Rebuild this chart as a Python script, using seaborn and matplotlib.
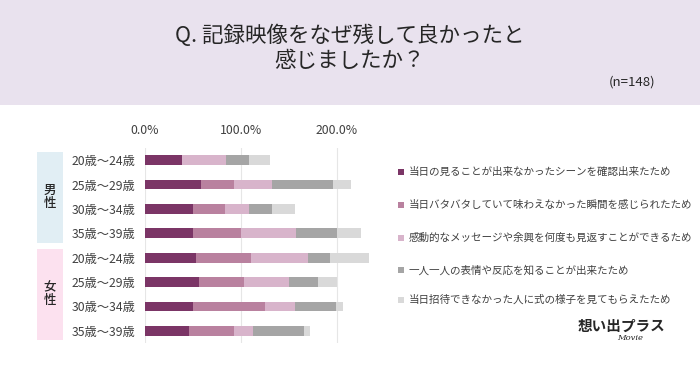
import numpy as np
import pandas as pd
import matplotlib
matplotlib.use("Agg")
import matplotlib.pyplot as plt
import seaborn as sns
from matplotlib.patches import Rectangle

# ---------------------------
# datos
# ---------------------------
ages = ["20歳～24歳", "25歳～29歳", "30歳～34歳", "35歳～39歳"]
genders = ["男性", "女性"]

reasons = [
    "当日の見ることが出来なかったシーンを確認出来たため",
    "当日バタバタしていて味わえなかった瞬間を感じられたため",
    "感動的なメッセージや余興を何度も見返すことができるため",
    "一人一人の表情や反応を知ることが出来たため",
    "当日招待できなかった人に式の様子を見てもらえたため",
]

# % por fila (男性 20-24 ... 女性 35-39)
r1 = [39, 58, 50, 50, 53, 56, 50, 46]
r2 = [0, 35, 33, 50, 58, 47, 75, 47]
r3 = [46, 39, 25, 58, 59, 47, 32, 20]
r4 = [23, 64, 25, 42, 23, 31, 42, 53]
r5 = [22, 19, 24, 25, 41, 19, 8, 6]

colors = ["#7B3566", "#B9819F", "#D8B4CB", "#A5A5A5", "#D9D9D9"]

xticks = [0, 100, 200]
xtick_labels = ["0.0%", "100.0%", "200.0%"]

# ---------------------------
# armado
# ---------------------------
row_keys = [f"{g}_{a}" for g in genders for a in ages]
series = np.array([r1, r2, r3, r4, r5], dtype=float)
cum = series.cumsum(axis=0)

plt.rcParams["font.family"] = ["Noto Sans CJK JP", "DejaVu Sans"]
text_col = "#404040"

fig = plt.figure(figsize=(7, 3.65), dpi=100)
fig.patch.set_facecolor("white")

# banner
fig.patches.append(Rectangle((0, 1 - 105 / 365), 1, 105 / 365, transform=fig.transFigure,
                             facecolor="#E9E2EE", edgecolor="none", zorder=0))
fig.text(0.5, 1 - 36 / 365, "Q. 記録映像をなぜ残して良かったと", ha="center", va="center",
         fontsize=15.5, color="#262626")
fig.text(0.5, 1 - 61 / 365, "感じましたか？", ha="center", va="center",
         fontsize=15.5, color="#262626")
fig.text(0.936, 1 - 82 / 365, "(n=148)", ha="right", va="center", fontsize=9.5, color="#262626")

# grupo
fig.patches.append(Rectangle((37 / 700, 1 - 243 / 365), 26 / 700, 91 / 365, transform=fig.transFigure,
                             facecolor="#E1EEF4", edgecolor="none", zorder=0))
fig.patches.append(Rectangle((37 / 700, 1 - 340 / 365), 26 / 700, 91 / 365, transform=fig.transFigure,
                             facecolor="#FCE1EF", edgecolor="none", zorder=0))
fig.text(50 / 700, 1 - 197 / 365, "男\n性", ha="center", va="center", fontsize=9,
         color="#262626", linespacing=1.0, fontweight="medium")
fig.text(50 / 700, 1 - 294 / 365, "女\n性", ha="center", va="center", fontsize=9,
         color="#262626", linespacing=1.0, fontweight="medium")

ax = fig.add_axes([145 / 700, 1 - 343 / 365, 230 / 700, (343 - 148) / 365])
ax.set_facecolor("none")

# barras apiladas: de la suma mayor a la menor
for i in range(len(series) - 1, -1, -1):
    df = pd.DataFrame({"row": row_keys, "val": cum[i]})
    sns.barplot(data=df, x="val", y="row", color=colors[i], orient="h",
                width=0.4, saturation=1, ax=ax, zorder=3)

ax.set_xlim(0, 240)
ax.set_ylim(7.5, -0.5)
ax.set_xticks(xticks)
ax.set_xticklabels(xtick_labels)
ax.xaxis.tick_top()
ax.set_yticks(range(len(row_keys)))
ax.set_yticklabels(ages * 2)
ax.set_xlabel("")
ax.set_ylabel("")
ax.tick_params(axis="both", length=0, colors=text_col, labelsize=8.8)
ax.tick_params(axis="x", pad=8)
ax.tick_params(axis="y", pad=7)
for s in ax.spines.values():
    s.set_visible(False)
for x in xticks:
    ax.axvline(x, color="#E6E6E6", lw=0.8, zorder=1)

# leyenda
leg_y = [172, 205, 238, 270, 300]
for c, lab, yy in zip(colors, reasons, leg_y):
    fy = 1 - yy / 365
    fig.patches.append(Rectangle((398 / 700, fy - 3 / 365), 6 / 700, 6 / 365, transform=fig.transFigure,
                                 facecolor=c, edgecolor="none"))
    fig.text(409 / 700, fy, lab, ha="left", va="center", fontsize=7.6, color=text_col)

# logo
fig.text(621 / 700, 1 - 326 / 365, "想い出プラス", ha="center", va="center", fontsize=10.5,
         color="#262626", fontweight="bold")
fig.text(630 / 700, 1 - 338 / 365, "Movie", ha="center", va="center", fontsize=6,
         color="#262626", style="italic", family="DejaVu Serif")

fig.savefig("out.png", dpi=100)
